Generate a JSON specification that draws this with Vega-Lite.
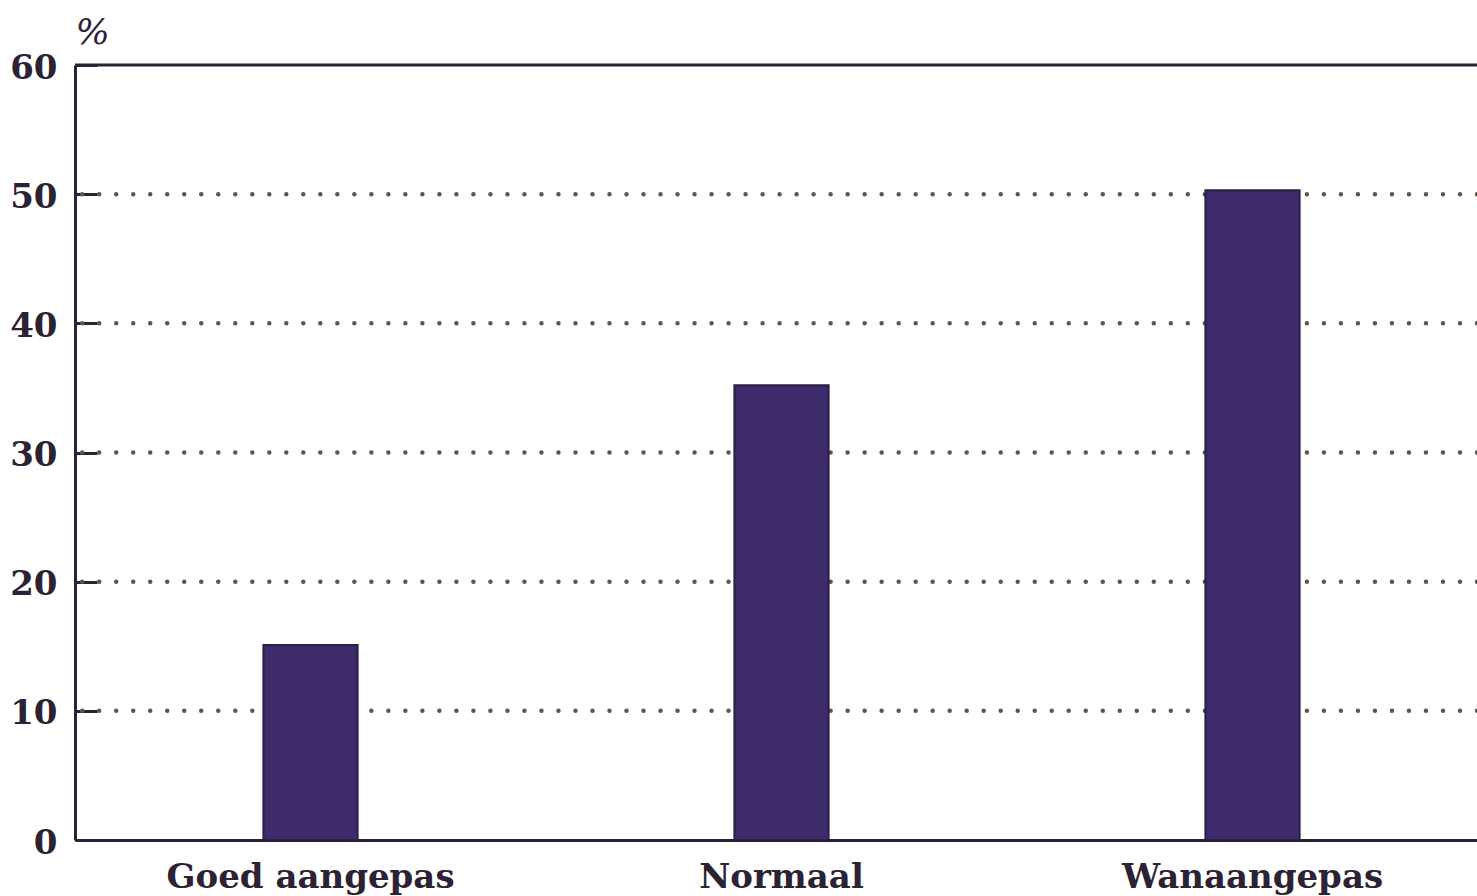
{
  "$schema": "https://vega.github.io/schema/vega-lite/v6.json",
  "autosize": "none",
  "width": 1402,
  "height": 775,
  "padding": {"left": 75, "top": 65, "right": 0, "bottom": 56},
  "background": "#ffffff",
  "config": {
    "view": {"stroke": null},
    "font": "DejaVu Serif",
    "axisY": {
      "title": "%",
      "titleAngle": 0,
      "titleX": 17,
      "titleY": -33,
      "titleAlign": "center",
      "titleBaseline": "middle",
      "titleFont": "DejaVu Serif",
      "titleFontStyle": "italic",
      "titleFontWeight": "normal",
      "titleFontSize": 36,
      "titleColor": "#2b2233",
      "domainColor": "#2b2233",
      "domainWidth": 3,
      "tickSize": -22,
      "tickWidth": 3,
      "tickColor": "#2b2233",
      "labelFont": "DejaVu Serif",
      "labelFontWeight": "bold",
      "labelFontSize": 34,
      "labelColor": "#2b2233",
      "labelPadding": 40,
      "labelBaseline": "middle",
      "labelOffset": 3,
      "grid": false
    }
  },
  "datasets": {
    "bars": [
      {"categorie": "Goed aangepas", "pct": 15.1},
      {"categorie": "Normaal", "pct": 35.2},
      {"categorie": "Wanaangepas", "pct": 50.3}
    ],
    "grid": [{"v": 10}, {"v": 20}, {"v": 30}, {"v": 40}, {"v": 50}]
  },
  "layer": [
    {
      "data": {"name": "grid"},
      "mark": {"type": "rule", "color": "#5f554f", "strokeWidth": 4.5, "strokeCap": "round", "strokeDash": [0.01, 17]},
      "encoding": {
        "y": {
          "field": "v",
          "type": "quantitative",
          "scale": {"domain": [0, 60], "nice": false},
          "axis": {"values": [0, 10, 20, 30, 40, 50, 60], "title": "%"}
        }
      }
    },
    {
      "data": {"name": "bars"},
      "mark": {"type": "bar", "color": "#3d2b6b", "stroke": "#2a1f44", "strokeWidth": 2},
      "encoding": {
        "x": {
          "field": "categorie",
          "type": "nominal",
          "sort": null,
          "scale": {"range": [0, 1413], "paddingInner": 0.8, "paddingOuter": 0.4},
          "axis": {
            "title": null,
            "labelAngle": 0,
            "ticks": false,
            "domainColor": "#2b2233",
            "domainWidth": 3,
            "labelFont": "DejaVu Serif",
            "labelFontWeight": "bold",
            "labelFontSize": 34,
            "labelLimit": 0,
            "labelColor": "#2b2233",
            "labelPadding": 20
          }
        },
        "y": {
          "field": "pct",
          "type": "quantitative",
          "scale": {"domain": [0, 60], "nice": false},
          "axis": {"values": [0, 10, 20, 30, 40, 50, 60], "title": "%"}
        }
      }
    },
    {
      "data": {"values": [{"top": 60}]},
      "mark": {"type": "rule", "color": "#2b2233", "strokeWidth": 3},
      "encoding": {
        "y": {"field": "top", "type": "quantitative"}
      }
    }
  ]
}
